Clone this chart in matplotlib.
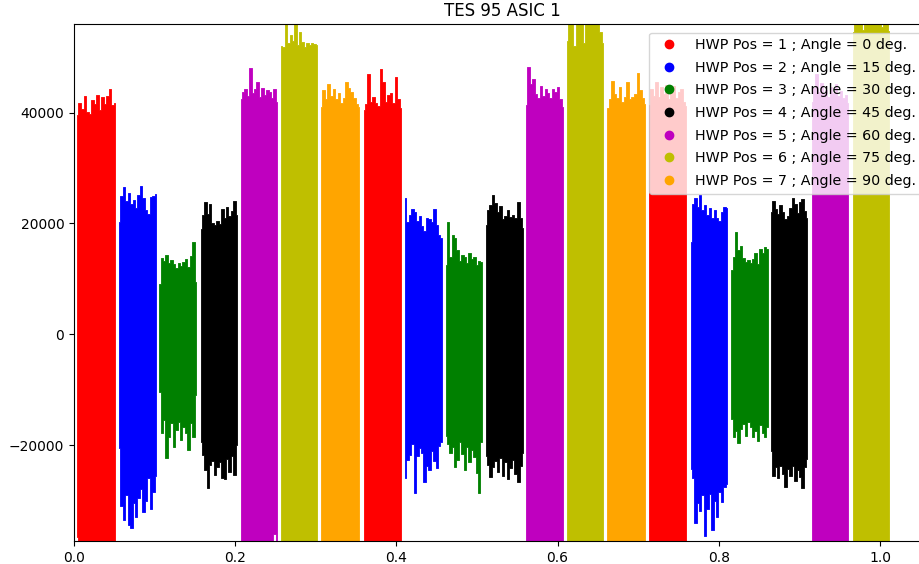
import numpy as np
import matplotlib
matplotlib.use('Agg')
import matplotlib.pyplot as plt
from matplotlib.lines import Line2D

# HWP positions and angles
hwp_pos = [1, 2, 3, 4, 5, 6, 7]
hwp_angle = [0, 15, 30, 45, 60, 75, 90]
hwp_colors = ['r', 'b', 'g', 'k', 'm', 'y', 'orange']

# one block per HWP step: position index, start and end time
block_pos = [1, 2, 3, 4, 5, 6, 7, 1, 2, 3, 4, 5, 6, 7, 1, 2, 3, 4, 5, 6]
block_start = [0.004, 0.056, 0.106, 0.157, 0.207, 0.257, 0.3065, 0.3594, 0.411, 0.461,
               0.5106, 0.561, 0.612, 0.6617, 0.7135, 0.765, 0.8157, 0.8646, 0.915, 0.9665]
block_end = [0.051, 0.1015, 0.151, 0.202, 0.2518, 0.3015, 0.354, 0.4058, 0.456, 0.5056,
             0.5574, 0.6066, 0.6563, 0.709, 0.7599, 0.81, 0.8605, 0.910, 0.9606, 1.0116]

# upper and lower envelope of the TES signal in each block (ADU)
sig_hi = [
    [39500, 41800, 40600, 43000, 40200, 39800, 42200, 41500, 43200, 40400, 42800, 41600, 43000, 44200, 41300, 41700],
    [20300, 25000, 26500, 24000, 25500, 23500, 24200, 22800, 25200, 26800, 24600, 22500, 21800, 24800, 25000, 25300],
    [9000, 13800, 13200, 14300, 12800, 13500, 12600, 12000, 12900, 12400, 13000, 13600, 12200, 14200, 16600, 9500],
    [19000, 21500, 23900, 21800, 23600, 20000, 19800, 20500, 19900, 22600, 21000, 22900, 21300, 22200, 24000, 21600],
    [42400, 43800, 44200, 43000, 48100, 43600, 44300, 45600, 42800, 44500, 43200, 44000, 43800, 42600, 44200, 42000],
    [52000, 51800, 57000, 52500, 54000, 53000, 58000, 52200, 54500, 52800, 51800, 52500, 52300, 52600, 52400, 52200],
    [41100, 44000, 42500, 45200, 43000, 44300, 42400, 43500, 41800, 42600, 45600, 44400, 43700, 42600, 41500, 41000],
    [40500, 41500, 47000, 42000, 42800, 41800, 41200, 47800, 45500, 42000, 43200, 43600, 41800, 46500, 42400, 40800],
    [24600, 20300, 21500, 22600, 22000, 20500, 21300, 19500, 18600, 21000, 20800, 20200, 22700, 19800, 18000, 17400],
    [12500, 20300, 14000, 17900, 17300, 15300, 13200, 14400, 14000, 12800, 14600, 13600, 13900, 12500, 13200, 13000],
    [19700, 22500, 23300, 25200, 23700, 22000, 23100, 20800, 21300, 22500, 21200, 21600, 20900, 23900, 21000, 19200],
    [41400, 48300, 45200, 46000, 43300, 42600, 44800, 43000, 44200, 43600, 42700, 44300, 43800, 44600, 42400, 41000],
    [53000, 58000, 57000, 52000, 58000, 56500, 57000, 52500, 58000, 57500, 56000, 58000, 57000, 56800, 54500, 52500],
    [40900, 42500, 45800, 43300, 42600, 44600, 42000, 42800, 45500, 42400, 42800, 43400, 47100, 44000, 42600, 41600],
    [41400, 44200, 43000, 45600, 42800, 44600, 43300, 45000, 42400, 43800, 44800, 42600, 43700, 44200, 42000, 41200],
    [16700, 23500, 24600, 23000, 25200, 22400, 23300, 21600, 22800, 20900, 22400, 21000, 20500, 22100, 22900, 22800],
    [11600, 14000, 18500, 15200, 15900, 13800, 13000, 13400, 12800, 13600, 14600, 12700, 15400, 14600, 15700, 15400],
    [22000, 24000, 22600, 21800, 23400, 22000, 20800, 21300, 22800, 24600, 23600, 21900, 23800, 24500, 22200, 21000],
    [42000, 44500, 46900, 43800, 45400, 43300, 44000, 42800, 44600, 43500, 45200, 43000, 43900, 42600, 43200, 41800],
    [54500, 57000, 56000, 58000, 55000, 57500, 56500, 58000, 57000, 56000, 57800, 56300, 55500, 57000, 56000, 54800],
]

sig_lo = [
    [-36500, -42000, -44000, -41000, -45000, -40000, -43000, -42500, -44500, -41500, -43500, -40500, -42000, -44000, -41000, -42500],
    [-20600, -31000, -33500, -29000, -34500, -35000, -30500, -33000, -29500, -28000, -32000, -30000, -26000, -31500, -28500, -25500],
    [-10500, -17900, -15500, -22300, -18500, -16000, -20400, -17200, -15800, -19000, -16800, -17800, -20800, -16000, -18600, -11000],
    [-19500, -21800, -24500, -27700, -23600, -22800, -25300, -24000, -23000, -25900, -26100, -22500, -24800, -21900, -25300, -20000],
    [-42000, -44000, -41000, -45000, -40000, -43000, -42500, -44500, -41500, -43500, -40500, -42000, -44000, -41000, -36000, -42500],
    [-44000, -41000, -45000, -40000, -43000, -42500, -44500, -41500, -43500, -40500, -42000, -44000, -41000, -42500, -43000, -42000],
    [-41000, -45000, -40000, -43000, -42500, -44500, -41500, -43500, -40500, -42000, -44000, -41000, -42500, -43000, -42000, -44000],
    [-45000, -40000, -43000, -42500, -44500, -41500, -43500, -40500, -42000, -44000, -41000, -42500, -43000, -42000, -44000, -41000],
    [-25900, -22700, -21800, -19800, -28600, -22000, -20500, -21500, -26700, -23800, -24500, -21000, -22800, -24200, -20200, -19500],
    [-18300, -19800, -21500, -20400, -24000, -22600, -19500, -21600, -24500, -20300, -23000, -20800, -22200, -25000, -28600, -19500],
    [-21900, -23500, -25800, -24000, -22800, -24800, -22300, -25600, -23000, -26100, -24200, -22600, -25200, -26700, -23700, -21500],
    [-40000, -43000, -42500, -44500, -41500, -43500, -40500, -42000, -44000, -41000, -42500, -43000, -42000, -44000, -41000, -45000],
    [-43000, -42500, -44500, -41500, -43500, -40500, -42000, -44000, -41000, -42500, -43000, -42000, -44000, -41000, -45000, -40000],
    [-42500, -44500, -41500, -43500, -40500, -42000, -44000, -41000, -42500, -43000, -42000, -44000, -41000, -45000, -40000, -43000],
    [-44500, -41500, -43500, -40500, -42000, -44000, -41000, -42500, -43000, -42000, -44000, -41000, -45000, -40000, -43000, -42500],
    [-24300, -26000, -34000, -30500, -31800, -29000, -36400, -31500, -28800, -35300, -30000, -33000, -28400, -30200, -27500, -27000],
    [-15200, -18600, -17500, -19700, -17000, -16200, -18300, -15900, -16800, -18500, -17500, -19200, -16400, -17800, -18600, -16800],
    [-21000, -25500, -24000, -26000, -23800, -25200, -27600, -24300, -25500, -23800, -26500, -24400, -25800, -27700, -24000, -22500],
    [-41500, -43500, -40500, -42000, -44000, -41000, -42500, -43000, -42000, -44000, -41000, -45000, -40000, -43000, -42500, -44500],
    [-43500, -40500, -42000, -44000, -41000, -42500, -43000, -42000, -44000, -41000, -45000, -40000, -43000, -42500, -44500, -41500],
]

fig = plt.figure(figsize=(9.2, 5.64), dpi=100)
# axes run a little past the right edge, as in the cropped original
ax = fig.add_axes([74/920., 23/564., 856/920., 517/564.])

for i in range(len(block_pos)):
    c = hwp_colors[block_pos[i] - 1]
    t = np.linspace(block_start[i], block_end[i], len(sig_hi[i]))
    ax.fill_between(t, sig_lo[i], sig_hi[i], step='mid', color=c, lw=0.6, edgecolor=c)

handles = []
for p, a, c in zip(hwp_pos, hwp_angle, hwp_colors):
    handles.append(Line2D([], [], ls='none', marker='o', color=c,
                          label='HWP Pos = %d ; Angle = %d deg.' % (p, a)))
ax.legend(handles=handles, loc='upper right', fontsize=10.3, labelspacing=0.6,
          borderaxespad=0.6)

ax.set_xlim(0, 1.062)
ax.set_ylim(-37300, 56000)
ax.set_title('TES 95 ASIC 1')

plt.savefig('out.png', dpi=100)
